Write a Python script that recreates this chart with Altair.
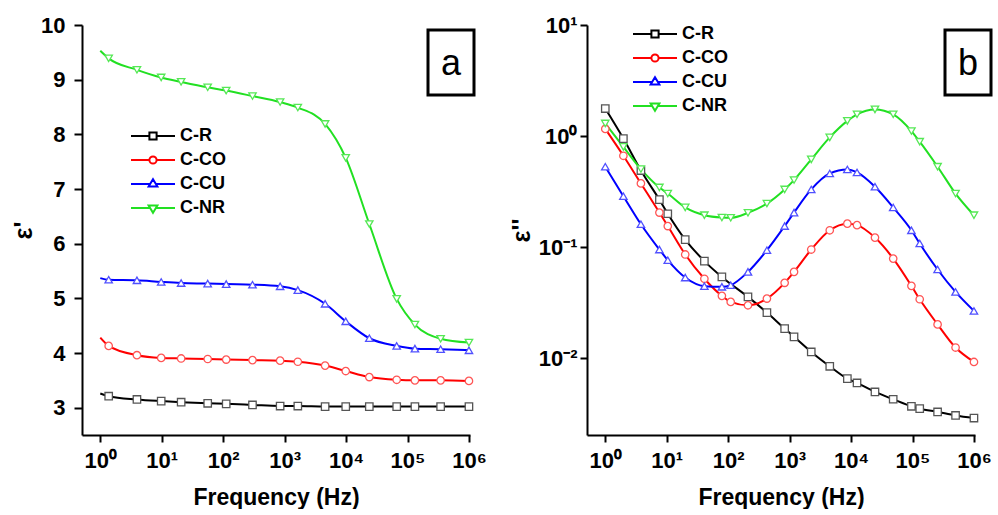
import altair as alt
import pandas as pd

FONT = "Liberation Sans"

SERIES = ["C-R", "C-CO", "C-CU", "C-NR"]
LINE_COLORS = ["#000000", "#ff0000", "#0000ff", "#22e022"]
MARKER_COLORS = ["#555555", "#ff5555", "#5050ff", "#55e855"]
SHAPES = ["square", "circle", "triangle-up", "triangle-down"]
# legend symbols: short line with the marker in its middle (unit coordinates)
LEGEND_PATHS = [
    "M-5.5,0H-0.9M0.9,0H5.5M-0.9,-0.9H0.9V0.9H-0.9Z",
    "M-5.5,0H-0.9M0.9,0H5.5M0.9,0A0.9,0.9,0,1,1,-0.9,0A0.9,0.9,0,1,1,0.9,0Z",
    "M-5.5,0H-0.7M0.7,0H5.5M0,-1.2L1.1,0.65H-1.1Z",
    "M-5.5,0H-0.7M0.7,0H5.5M0,1.2L1.1,-0.65H-1.1Z",
]

# ---- panel a : real permittivity (first point has no marker) ----
A_FREQ = [1, 1.37, 3.95, 9.8, 20.7, 56, 112, 300, 845, 1640, 4560, 9880,
          23900, 66700, 132000, 346000, 1000000]
A_MARKER = [0] + [1] * 16
A_CR = [3.26, 3.21, 3.15, 3.12, 3.10, 3.08, 3.07, 3.05, 3.03, 3.03, 3.02, 3.02,
        3.02, 3.02, 3.02, 3.02, 3.02]
A_CCO = [4.28, 4.13, 3.96, 3.91, 3.90, 3.89, 3.88, 3.87, 3.86, 3.84, 3.77, 3.67,
         3.56, 3.51, 3.50, 3.50, 3.49]
A_CCU = [5.37, 5.34, 5.33, 5.30, 5.28, 5.27, 5.26, 5.25, 5.22, 5.15, 4.90, 4.58,
         4.27, 4.13, 4.08, 4.07, 4.05]
A_CNR = [9.53, 9.39, 9.18, 9.04, 8.96, 8.86, 8.80, 8.70, 8.59, 8.49, 8.19, 7.57,
         6.36, 4.99, 4.52, 4.26, 4.19]

# ---- panel b : imaginary permittivity ----
B_FREQ = [1, 1.97, 3.8, 7.6, 10.4, 20, 41, 79, 110, 210, 427, 830, 1180, 2250,
          4500, 8700, 12500, 24500, 48500, 96000, 131000, 256000, 502000, 1000000]
B_CR = [1.77, 0.95, 0.49, 0.268, 0.20, 0.117, 0.075, 0.054, None, 0.0357, 0.0258,
        0.0185, 0.0156, 0.0114, 0.00847, 0.00656, 0.0060, 0.00498, 0.00428,
        0.0037, 0.00352, 0.00329, 0.00306, 0.0029]
B_CCO = [1.16, 0.665, 0.375, 0.205, 0.155, 0.086, 0.052, 0.0365, 0.0322, 0.030,
         0.0345, 0.0478, 0.060, 0.0953, 0.142, 0.163, 0.158, 0.122, 0.079,
         0.0449, 0.034, 0.0202, 0.0125, 0.00927]
B_CCU = [0.53, 0.288, 0.161, 0.0953, 0.0764, 0.0533, 0.0446, 0.044, 0.0455, 0.060,
         0.094, 0.155, 0.205, 0.331, 0.461, 0.501, 0.471, 0.35, 0.228, 0.142,
         0.108, 0.063, 0.0396, 0.0267]
B_CNR = [1.30, 0.80, 0.505, 0.345, 0.304, 0.228, 0.194, 0.185, 0.184, 0.204,
         0.247, 0.331, 0.402, 0.617, 0.973, 1.37, 1.57, 1.74, 1.57, 1.11, 0.89,
         0.53, 0.304, 0.194]

X_TICKS = [1, 10, 100, 1000, 10000, 100000, 1000000]
X_TICK_LABELS = ["10⁰", "10¹", "10²", "10³", "10⁴", "10⁵", "10⁶"]
A_Y_TICKS = [3, 4, 5, 6, 7, 8, 9, 10]
A_Y_TICK_LABELS = ["3", "4", "5", "6", "7", "8", "9", "10"]
B_Y_TICKS = [0.01, 0.1, 1, 10]
B_Y_TICK_LABELS = ["10⁻²", "10⁻¹", "10⁰", "10¹"]


def long_frame(freq, cols, markers=None):
    rows = []
    for name, vals in zip(SERIES, cols):
        for i, (f, v) in enumerate(zip(freq, vals)):
            if v is None:
                continue
            rows.append({"freq": f, "value": v, "series": name,
                         "marker": 1 if markers is None else markers[i]})
    return pd.DataFrame(rows)


def label_expr(ticks, labels):
    parts = [f"abs(datum.value - {t}) < {t} * 1e-6 ? '{l}'" for t, l in zip(ticks, labels)]
    return " : ".join(parts) + " : ''"


def panel(df, ydom, ytype, yticks, ylabels, ytitle, ytick_size, ylabel_pad,
          leg_x, leg_y, tag, tag_x):
    x = alt.X("freq:Q",
              scale=alt.Scale(type="log", domain=[0.504, 1.04e6], nice=False),
              axis=alt.Axis(values=X_TICKS, labelExpr=label_expr(X_TICKS, X_TICK_LABELS),
                            title="Frequency (Hz)", tickSize=7, labelPadding=8,
                            titlePadding=15, labelFlush=False))
    y = alt.Y("value:Q",
              scale=alt.Scale(type=ytype, domain=ydom, nice=False, zero=False),
              axis=alt.Axis(values=yticks, labelExpr=label_expr(yticks, ylabels),
                            title=ytitle, tickSize=ytick_size, labelPadding=ylabel_pad,
                            titlePadding=4, labelFlush=False))
    base = alt.Chart(df)
    cscale = alt.Scale(domain=SERIES, range=LINE_COLORS)
    leg = alt.Legend(title=None, orient="none", legendX=leg_x, legendY=leg_y,
                     symbolSize=64, symbolStrokeWidth=2, symbolFillColor="white",
                     symbolOpacity=1, labelFont=FONT, labelFontWeight="bold",
                     labelFontSize=18, labelColor="black", labelOffset=18,
                     rowPadding=6, padding=0)
    # invisible layer that only carries the legend (line + marker symbols); first so its legend wins
    legend_layer = base.mark_point(fill="white", opacity=0, strokeWidth=2).encode(
        x=x, y=y,
        color=alt.Color("series:N", scale=cscale, legend=leg),
        shape=alt.Shape("series:N", scale=alt.Scale(domain=SERIES, range=LEGEND_PATHS),
                        legend=leg))
    line = base.mark_line(interpolate="monotone", strokeWidth=2).encode(
        x=x, y=y, color=alt.Color("series:N", scale=cscale))
    layers = [legend_layer, line]
    for s, shp, mc in zip(SERIES, SHAPES, MARKER_COLORS):
        pts = base.transform_filter(
            (alt.datum.series == s) & (alt.datum.marker == 1)
        ).mark_point(shape=shp, fill="white", stroke=mc, strokeWidth=1.3,
                     size=55, opacity=1).encode(x=x, y=y)
        layers.append(pts)
    tag_df = pd.DataFrame({"tag": [tag]})
    box = alt.Chart(tag_df).mark_rect(fill="white", stroke="black", strokeWidth=3).encode(
        x=alt.value(tag_x), x2=alt.value(tag_x + 46), y=alt.value(5), y2=alt.value(70))
    txt = alt.Chart(tag_df).mark_text(font=FONT, fontSize=36, color="black",
                                      baseline="middle", align="center").encode(
        x=alt.value(tag_x + 23), y=alt.value(39), text="tag:N")
    layers += [box, txt]
    return alt.layer(*layers).properties(width=388, height=410)


df_a = long_frame(A_FREQ, [A_CR, A_CCO, A_CCU, A_CNR], A_MARKER)
df_b = long_frame(B_FREQ, [B_CR, B_CCO, B_CCU, B_CNR])

pa = panel(df_a, [2.5, 10], "linear", A_Y_TICKS, A_Y_TICK_LABELS, "ε'", 8, 9,
           62, 102, "a", 346)
pb = panel(df_b, [0.00204, 10], "log", B_Y_TICKS, B_Y_TICK_LABELS, "ε''", 7, 3,
           59, 0, "b", 358)

chart = alt.hconcat(pa, pb, spacing=22).resolve_scale(
    color="independent", shape="independent"
).properties(
    padding={"left": 11, "top": 14, "right": 0, "bottom": 0}
).configure_view(stroke=None).configure_axis(
    grid=False, domainColor="black", domainWidth=2, tickColor="black", tickWidth=2,
    labelFont=FONT, labelFontWeight="bold", labelFontSize=22, labelColor="black",
    titleFont=FONT, titleFontWeight="bold", titleFontSize=23, titleColor="black"
).configure_axisY(titleFontSize=25)

chart.save("out.html", embed_options={"renderer": "svg", "actions": False})
